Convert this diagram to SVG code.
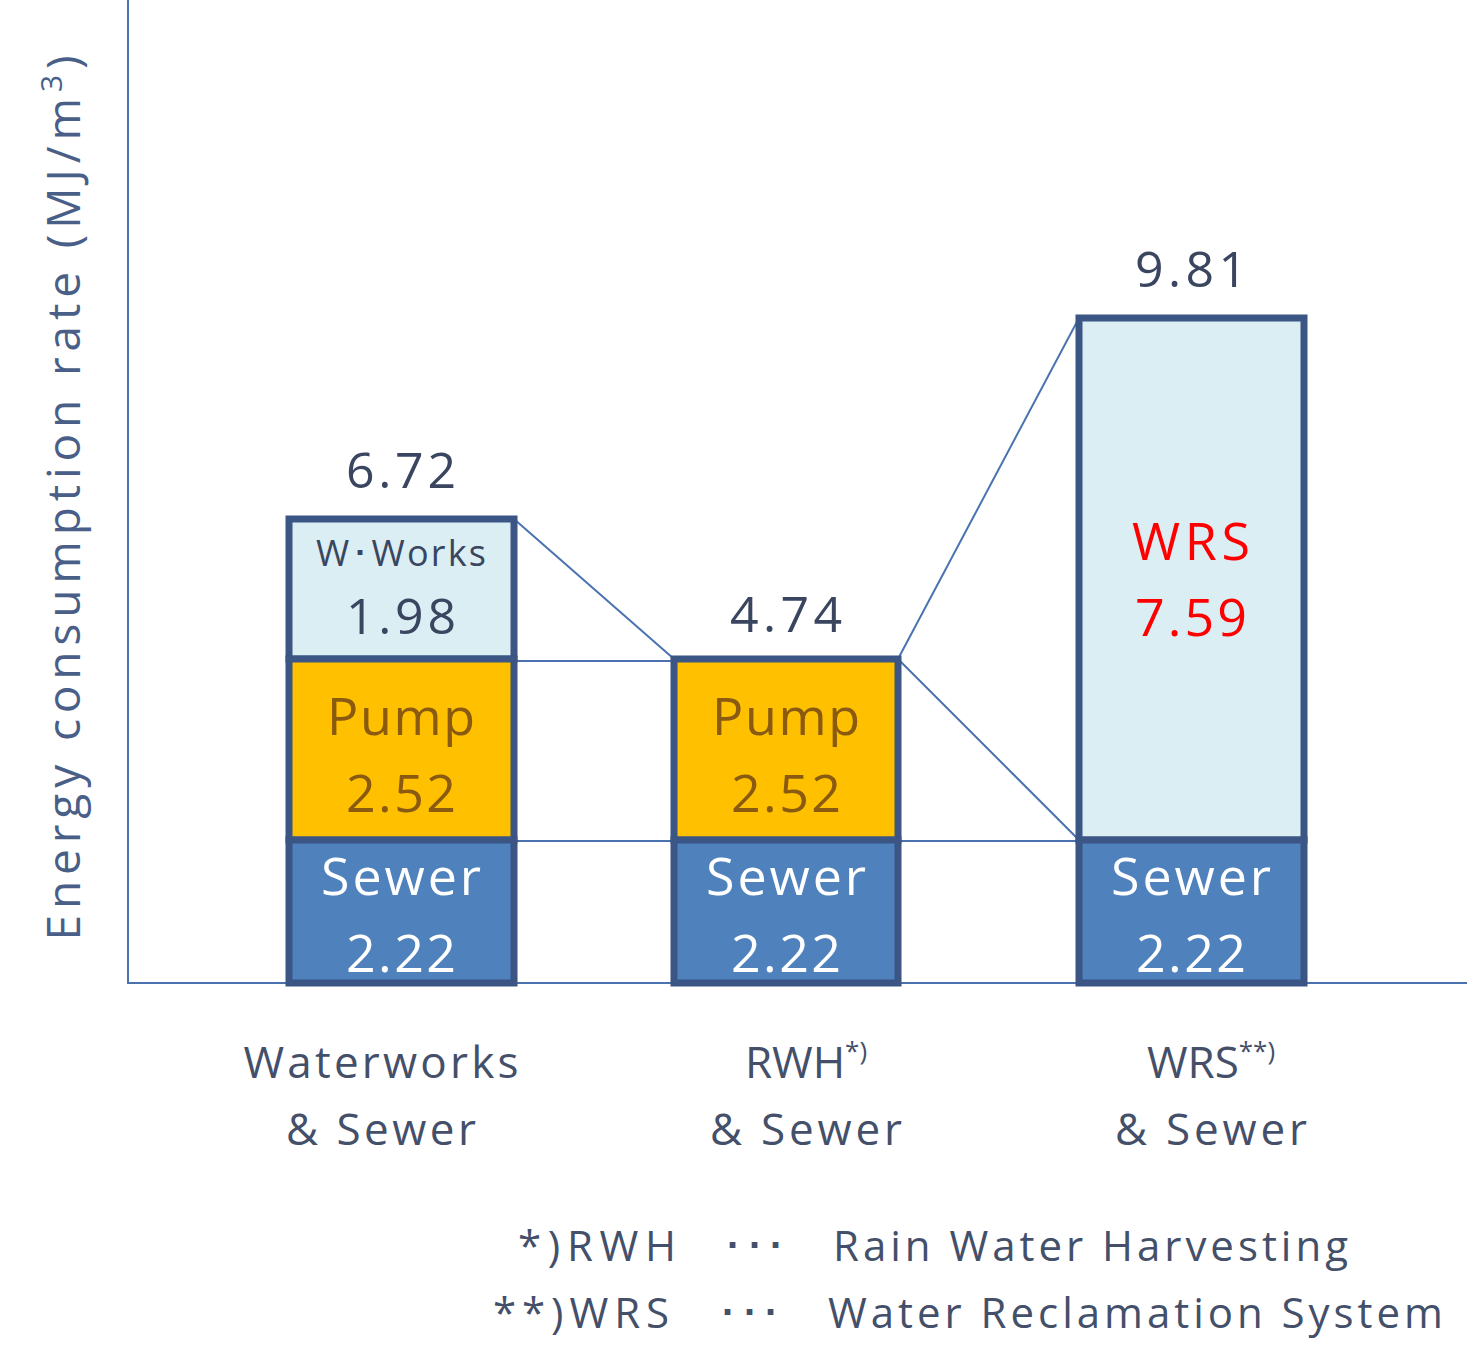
<svg xmlns="http://www.w3.org/2000/svg" width="1467" height="1354" viewBox="0 0 1467 1354">
<style>
text{font-family:"Open Sans","Liberation Sans",sans-serif;text-anchor:middle}
.bar{stroke:#3b5584;stroke-width:7}
.lb{fill:#dbeef4}.pu{fill:#ffc000}.se{fill:#4f81bd}
.v{font-size:50px;fill:#3a4660}
.pt{font-size:52px;fill:#8a5a10}
.st{font-size:52px;fill:#ffffff}
.cat{font-size:44px;fill:#44506a}
.leg{font-size:42px;fill:#44506a;text-anchor:start}
.ln{stroke:#4a72b0;stroke-width:2;fill:none}
</style>
<rect width="1467" height="1354" fill="#fff"/>
<g id="axes">
<line class="ln" x1="128" y1="0" x2="128" y2="984"/>
<line class="ln" x1="128" y1="983" x2="1467" y2="983"/>
<text transform="translate(80,498) rotate(-90)" style="font-size:46px;fill:#4a5f88" textLength="885" lengthAdjust="spacing">Energy consumption rate  (MJ/m<tspan dy="-18" font-size="30">3</tspan><tspan dy="18">)</tspan></text>
</g>
<g id="connectors">
<line class="ln" x1="514" y1="519" x2="674" y2="659"/>
<line class="ln" x1="898" y1="659" x2="1079" y2="318"/>
<line class="ln" x1="898" y1="659" x2="1079" y2="840"/>
<line class="ln" x1="490" y1="661" x2="674" y2="661"/>
<line class="ln" x1="490" y1="841" x2="1079" y2="841"/>
</g>
<g id="bar1">
<rect class="bar lb" x="289" y="519" width="225" height="140"/>
<rect class="bar pu" x="289" y="659" width="225" height="181"/>
<rect class="bar se" x="289" y="840" width="225" height="143"/>
<text class="v" x="401" y="488" textLength="110">6.72</text>
<text x="401" y="566" style="font-size:36px;fill:#3a4660" textLength="170">W･Works</text>
<text class="v" x="401" y="634" textLength="110">1.98</text>
<text class="pt" x="401" y="735" textLength="148">Pump</text>
<text class="pt" x="401" y="812" textLength="110">2.52</text>
<text class="st" x="401" y="895" textLength="160">Sewer</text>
<text class="st" x="401" y="972" textLength="110">2.22</text>
</g>
<g id="bar2">
<rect class="bar pu" x="674" y="659" width="224" height="181"/>
<rect class="bar se" x="674" y="840" width="224" height="143"/>
<text class="v" x="786" y="632" textLength="112">4.74</text>
<text class="pt" x="786" y="735" textLength="148">Pump</text>
<text class="pt" x="786" y="812" textLength="110">2.52</text>
<text class="st" x="786" y="895" textLength="160">Sewer</text>
<text class="st" x="786" y="972" textLength="110">2.22</text>
</g>
<g id="bar3">
<rect class="bar lb" x="1079" y="318" width="225" height="522"/>
<rect class="bar se" x="1079" y="840" width="225" height="143"/>
<text class="v" x="1191" y="287" textLength="112">9.81</text>
<text x="1191" y="560" style="font-size:52px;fill:#ff0000" textLength="118">WRS</text>
<text x="1191" y="636" style="font-size:52px;fill:#ff0000" textLength="112">7.59</text>
<text class="st" x="1191" y="895" textLength="160">Sewer</text>
<text class="st" x="1191" y="972" textLength="110">2.22</text>
</g>
<g id="labels">
<text class="cat" x="381" y="1078" textLength="275">Waterworks</text>
<text class="cat" x="381" y="1145" textLength="190">&amp; Sewer</text>
<text class="cat" x="806" y="1078">RWH<tspan dy="-18" font-size="26">*)</tspan></text>
<text class="cat" x="806" y="1145" textLength="192">&amp; Sewer</text>
<text class="cat" x="1211" y="1078">WRS<tspan dy="-18" font-size="26">**)</tspan></text>
<text class="cat" x="1211" y="1145" textLength="192">&amp; Sewer</text>
<text class="leg" x="518" y="1261" textLength="158">*)RWH</text>
<text class="leg" x="722" y="1261" textLength="64">･･･</text>
<text class="leg" x="833" y="1261" textLength="515">Rain Water Harvesting</text>
<text class="leg" x="493" y="1328" textLength="176">**)WRS</text>
<text class="leg" x="717" y="1328" textLength="64">･･･</text>
<text class="leg" x="828" y="1328" textLength="615">Water Reclamation System</text>
</g>
</svg>
